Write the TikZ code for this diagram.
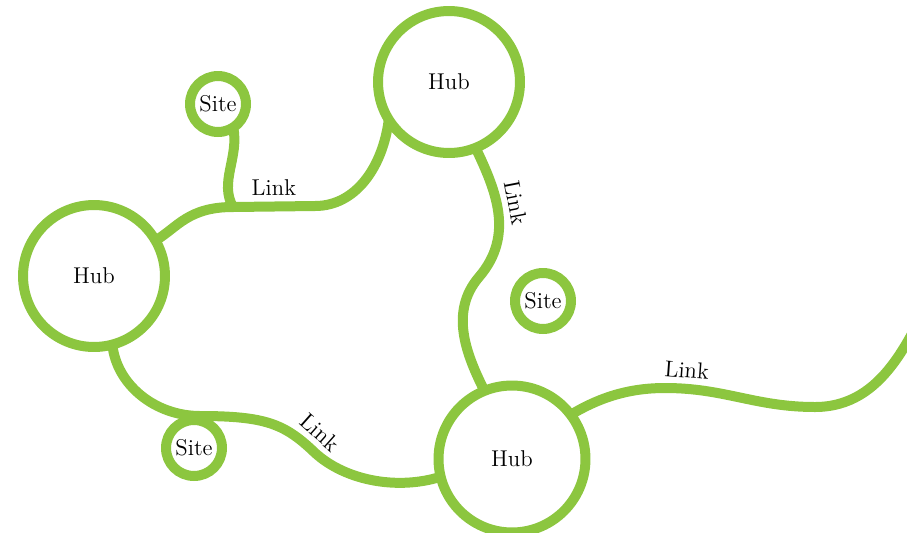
\documentclass[tikz,border=0pt]{standalone}
\usetikzlibrary{backgrounds}
\definecolor{linkgreen}{RGB}{140,198,63}

\begin{document}
\begin{tikzpicture}[x=0.02cm, y=-0.02cm,
	hub/.style={circle, draw=linkgreen, line width=0.2cm, fill=white,
		minimum size=2.84cm, inner sep=0pt, outer sep=0pt, font=\fontsize{13}{15}\selectfont},
	site/.style={hub, minimum size=1.12cm},
	link/.style={draw=linkgreen, line width=0.2cm},
	lbl/.style={sloped, above, font=\fontsize{13}{15}\selectfont}]
	\useasboundingbox (0,0) rectangle (907,532);

	\node[hub] (hubT) at (449,82) {Hub};
	\node[hub] (hubW) at (94,276) {Hub};
	\node[hub, minimum size=2.94cm] (hubS) at (512,459) {Hub};
	\node[site] (siteA) at (218,104) {Site};
	\node[site] (siteB) at (543,301) {Site};
	\node[site] (siteC) at (194,448) {Site};

	\begin{pgfonlayer}{background}
		\coordinate (j1) at (233,207);
		\coordinate (k1) at (315,206);
		\coordinate (m2) at (479,277);
		\coordinate (j2) at (200,416);
		\coordinate (m3) at (312,450);
		\coordinate (w1) at (665,388);
		\coordinate (w2) at (815,407);
		\coordinate (rimE) at (935,290);

		% west hub up to the top hub, with the site joining on the way
		\draw[link] (hubW.30) .. controls +(22,-13) and +(-45,0) .. (j1)
			-- (k1) node[lbl, pos=0.5] {Link}
			.. controls +(41,0) and +(-6,47) .. (hubT.212);
		\draw[link] (siteA.-57) .. controls +(6,30) and +(-14,-25) .. (j1);

		% top hub down to the south hub
		\draw[link] (hubT.-68) .. controls +(20,42) and +(36,-42) .. (m2) node[lbl, pos=0.45] {Link}
			.. controls +(-30,35) and +(-18,-36) .. (hubS.112);

		% west hub round to the south hub
		\draw[link] (hubW.-75) .. controls +(4,40) and +(-45,0) .. (j2)
			.. controls +(65,0) and +(-28,-26) .. (m3) node[lbl, pos=0.95] {Link}
			.. controls +(30,30) and +(-45,14) .. (hubS.194);

		% south hub off to the east
		\draw[link] (hubS.37) .. controls +(30,-18) and +(-35,0) .. (w1)
			.. controls +(60,0) and +(-60,0) .. (w2) node[lbl, pos=0.12] {Link}
			.. controls +(70,0) and +(-25,45) .. (rimE);
	\end{pgfonlayer}
\end{tikzpicture}
\end{document}
